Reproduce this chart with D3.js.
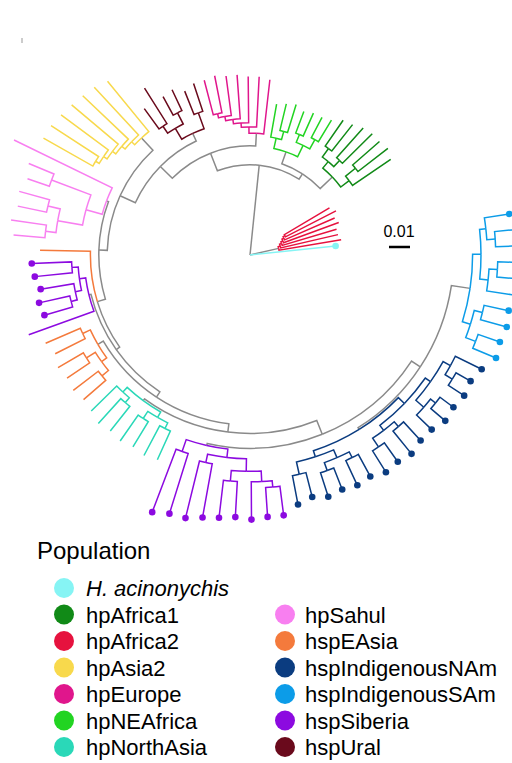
<!DOCTYPE html>
<html>
<head>
<meta charset="utf-8">
<script src="https://cdn.jsdelivr.net/npm/d3@7"></script>
<style>
  body { margin: 0; background: #fff; }
  svg { font-family: "Liberation Sans", Arial, sans-serif; }
</style>
</head>
<body>
<svg id="chart" width="512" height="763"></svg>
<script>
// clades as newick pieces, branch lengths in units of 0.001
var OUT = "(CY:41,(R:30,(R:28,(R:27,(R:28,(R:26,(R:27,R:25):1):1):1):1):1):14)";
var AF1 = "((A1:22,(A1:18,A1:17):6):5,((A1:20,A1:19):4,(A1:16,A1:15):5):4)";
var NEA = "(((NE:12,NE:11):5,(NE:12,NE:11):4):6,((NE:14,NE:13):4,NE:16):5)";
var EUR = "(EU:26,(EU:24,(EU:22,(EU:21,(EU:19,(EU:18,EU:17):2):2):2):2):3)";
var URAL = "((UR:14,UR:12):8,((UR:11,UR:10):6,(UR:20,UR:12):4):6)";
var ASIA2 = "(AS:31,(AS:31,(AS:30,(AS:29,(AS:28,(AS:27,AS:27):2):2):2):2):2)";
var SAHUL = "(SA:52,((SA:13,SA:11):20,((SA:15,SA:14):6,(SA:17,SA:15):5):12):8)";
var SIB1 = "(((SI:19,SI:18):3,(SI:16,(SI:15,SI:14):3):3):3,SX:33)";
var EAS = "((EA:18,EA:16):4,((EA:14,EA:13):5,(EA:15,EA:14):4):3)";
var NAS = "((NA:17,(NA:16,NA:15):3):3,((NA:15,NA:14):4,(NA:16,NA:15):3):3)";
var SIB2 = "((SI:32,SI:30):6,((SI:28,SI:26):4,((SI:18,SI:17):5,(SI:18,(SI:14,SI:14):3):5):6):4)";
var NAM = "(((NM:14,NM:12):6,((NM:12,NM:11):4,(NM:13,NM:12):3):4):3,(((NM:12,NM:11):5,(NM:14,NM:12):3):3,((NM:10,(NM:9,NM:8):3):5,((NM:9,NM:8):4,NM:14):4):3):4)";
var SAM = "(((SM:12,SM:11):5,(SM:13,SM:12):4):4,((SM:14,(SM:10,SM:9):4):4,((SM:11,SM:10):4,SM:12):3):4)";

// backbone (ladder) joining the clades
var backbone = "(OUT:0,((AF1:8,NEA:6):3,(EUR:6,(URAL:4,(ASIA2:8,(SAHUL:1,(EA:24,(SIB1:1,(EAS:3,(NAS:1,(SIB2:1,(NAM:1,SAM:9):5):7):4):3):2):4):4):8):8):9):43)";
var clades = { OUT: OUT, AF1: AF1, NEA: NEA, EUR: EUR, URAL: URAL, ASIA2: ASIA2, SAHUL: SAHUL,
  SIB1: SIB1, EAS: EAS, NAS: NAS, SIB2: SIB2, NAM: NAM, SAM: SAM };

var popCodes = ["CY", "A1", "R", "AS", "EU", "NE", "NA", "SA", "EA", "NM", "SM", "SI", "SX", "UR"];
var popColors = ["#86f4f4", "#118a17", "#e6123e", "#f8d94c", "#e0168c", "#22d422", "#2ad8b8",
  "#f87ff0", "#f47a3c", "#0b3c80", "#0c9ce8", "#8c0ae0", "#8c0ae0", "#6a0a1c"];
var dotCodes = ["CY", "SI", "NM", "SM"];

var legend1 = ["H. acinonychis", "hpAfrica1", "hpAfrica2", "hpAsia2", "hpEurope", "hpNEAfrica", "hpNorthAsia"];
var legend1Col = ["#86f4f4", "#118a17", "#e6123e", "#f8d94c", "#e0168c", "#22d422", "#2ad8b8"];
var legend2 = ["hpSahul", "hspEAsia", "hspIndigenousNAm", "hspIndigenousSAm", "hspSiberia", "hspUral"];
var legend2Col = ["#f87ff0", "#f47a3c", "#0b3c80", "#0c9ce8", "#8c0ae0", "#6a0a1c"];

// build newick
var nwk = backbone.replace(/\b(OUT|AF1|NEA|EUR|URAL|ASIA2|SAHUL|SIB1|EAS|NAS|SIB2|NAM|SAM)\b/g, function (m) { return clades[m]; });

function parseNewick(s) {
  var i = 0;
  function node() {
    var n = { children: [] };
    if (s[i] == "(") {
      i++;
      n.children.push(node());
      while (s[i] == ",") { i++; n.children.push(node()); }
      i++; // ')'
    }
    var name = "";
    while (i < s.length && /[A-Za-z0-9]/.test(s[i])) name += s[i++];
    n.name = name;
    n.len = 0;
    if (s[i] == ":") {
      i++;
      var num = "";
      while (i < s.length && /[0-9.]/.test(s[i])) num += s[i++];
      n.len = +num;
    }
    return n;
  }
  return node();
}

var tree = d3.hierarchy(parseNewick(nwk), function (d) { return d.children.length ? d.children : null; });
var leaves = tree.leaves();

var colorOf = d3.scaleOrdinal().domain(popCodes).range(popColors);
var cx = 250, cy = 255;
var r = d3.scaleLinear().domain([0, 0.01]).range([0, 21]);
var angle = d3.scaleLinear().domain([0, leaves.length - 1]).range([84, -279]);

// depth from root and angles
tree.eachBefore(function (d) { d.dist = (d.parent ? d.parent.dist : 0) + d.data.len / 1000; });
leaves.forEach(function (d, i) { d.ang = angle(i); });
tree.eachAfter(function (d) {
  if (d.children) d.ang = d3.mean(d.children, function (c) { return c.ang; });
  var pops = d.leaves().map(function (l) { return l.data.name == "SX" ? "SI" : l.data.name; });
  d.pure = pops.every(function (p) { return p == pops[0]; }) ? d.leaves()[0].data.name : null;
});

function pt(dist, a) {
  var t = a * Math.PI / 180;
  return [cx + r(dist) * Math.sin(t), cy - r(dist) * Math.cos(t)];
}

var svg = d3.select("#chart");
var g = svg.append("g");

var links = tree.descendants().filter(function (d) { return d.parent; });
// draw grey first, colored on top
links.sort(function (a, b) { return (colorBranch(a) ? 1 : 0) - (colorBranch(b) ? 1 : 0); });

function colorBranch(d) {
  if (!d.children) return colorOf(d.data.name);
  if (d.parent.pure) return colorOf(d.parent.pure);
  return null;
}

g.selectAll("path.branch").data(links).enter().append("path")
  .attr("class", "branch")
  .attr("fill", "none")
  .attr("stroke", function (d) { return colorBranch(d) || "#8a8a8a"; })
  .attr("stroke-width", 1.5)
  .attr("d", function (d) {
    var p = d.parent;
    var rr = r(p.dist);
    var a0 = pt(p.dist, p.ang), a1 = pt(p.dist, d.ang), e = pt(d.dist, d.ang);
    var sweep = d.ang > p.ang ? 1 : 0;
    var large = Math.abs(d.ang - p.ang) > 180 ? 1 : 0;
    var path = "M" + a0[0] + "," + a0[1];
    if (Math.abs(d.ang - p.ang) > 0.01) path += "A" + rr + "," + rr + " 0 " + large + " " + sweep + " " + a1[0] + "," + a1[1];
    return path + "L" + e[0] + "," + e[1];
  });

g.selectAll("circle.tip").data(leaves.filter(function (d) { return dotCodes.indexOf(d.data.name) >= 0; }))
  .enter().append("circle")
  .attr("r", 3.3)
  .attr("cx", function (d) { return pt(d.dist, d.ang)[0]; })
  .attr("cy", function (d) { return pt(d.dist, d.ang)[1]; })
  .attr("fill", function (d) { return colorOf(d.data.name); });

// scale bar
svg.append("text").attr("x", 399).attr("y", 237).attr("text-anchor", "middle")
  .attr("font-size", 16).text("0.01");
svg.append("line").attr("x1", 389).attr("x2", 389 + r(0.01)).attr("y1", 247).attr("y2", 247)
  .attr("stroke", "#000").attr("stroke-width", 2.5);
svg.append("line").attr("x1", 22).attr("x2", 22).attr("y1", 38).attr("y2", 43)
  .attr("stroke", "#999").attr("stroke-width", 1);

// legend
svg.append("text").attr("x", 37).attr("y", 559).attr("font-size", 24).text("Population");
var rowY = d3.scaleLinear().domain([0, 6]).range([588, 747]);
var l1 = svg.selectAll("g.l1").data(legend1).enter().append("g")
  .attr("transform", function (d, i) { return "translate(64," + rowY(i) + ")"; });
l1.append("circle").attr("r", 10).attr("fill", function (d, i) { return legend1Col[i]; });
l1.append("text").attr("x", 22).attr("y", 8).attr("font-size", 22)
  .attr("font-style", function (d, i) { return i == 0 ? "italic" : null; }).text(function (d) { return d; });
var l2 = svg.selectAll("g.l2").data(legend2).enter().append("g")
  .attr("transform", function (d, i) { return "translate(285," + rowY(i + 1) + ")"; });
l2.append("circle").attr("r", 10).attr("fill", function (d, i) { return legend2Col[i]; });
l2.append("text").attr("x", 20).attr("y", 8).attr("font-size", 22).text(function (d) { return d; });
</script>
</body>
</html>
